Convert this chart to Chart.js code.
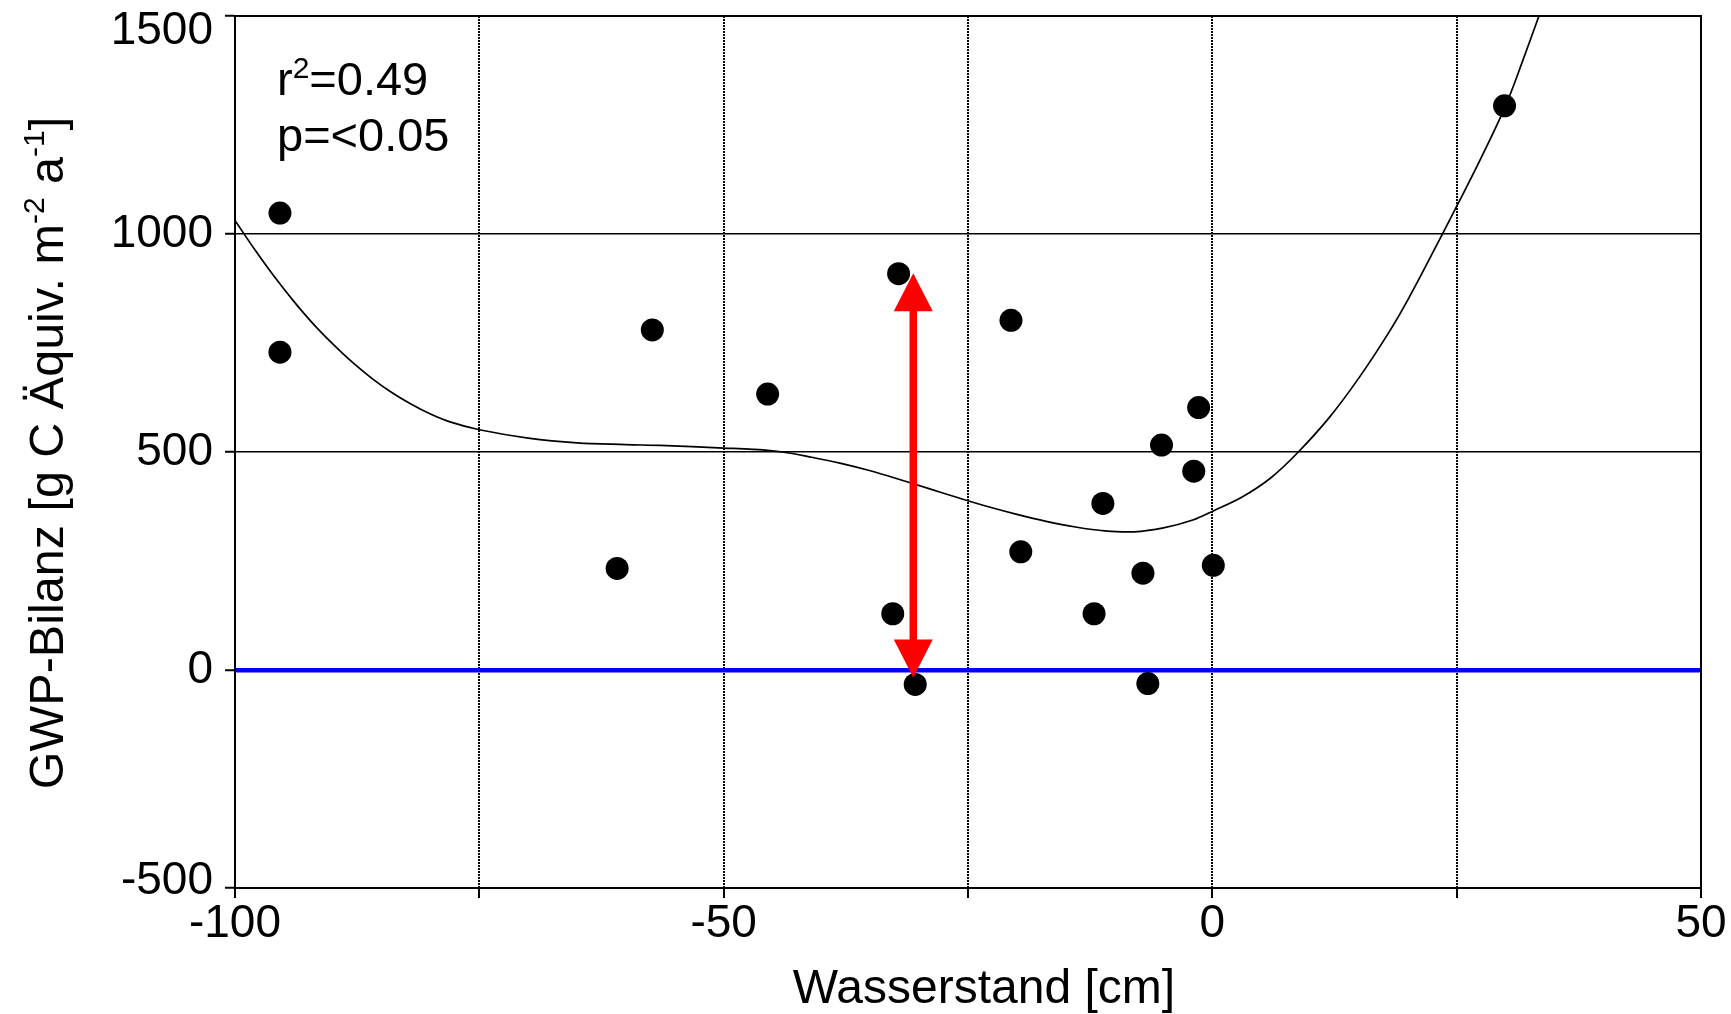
<!DOCTYPE html>
<html><head><meta charset="utf-8">
<script src="https://cdn.jsdelivr.net/npm/chart.js@4"></script>
<style>html,body{margin:0;padding:0;background:#fff;}canvas{display:block;}</style>
</head><body>
<canvas id="c" width="1731" height="1014"></canvas>
<script>
// ---- data ----
const waterLevel = [-95.4, -95.4, -60.9, -57.3, -45.5, -32.7, -32.1, -30.4, -20.6, -19.6, -12.1, -11.2, -7.1, -6.6, -5.2, -1.9, -1.4, 0.1, 29.9];
const gwpBalance = [1048, 729, 233, 780, 633, 129, 909, -33, 802, 271, 129, 382, 222, -31, 516, 456, 602, 240, 1294];
// fitted curve, sampled by eye along the drawn line
const fitX = [-100, -98, -96, -94, -92, -90, -88, -86, -84, -82, -80, -78, -75, -70, -65, -60, -56.5, -50, -47, -44, -41, -38, -35, -32, -29, -26, -23, -20, -17, -14, -11, -8, -5, -2, 0.2, 3, 6, 8.8, 12, 15, 18, 20.1, 23.5, 25.15, 27.4, 30, 31.8, 33.4];
const fitY = [1031, 965, 903, 846, 794, 748, 706, 669, 637, 610, 587, 569, 551, 532, 521, 517, 515, 509, 506, 500, 488, 474, 457, 437, 416, 395, 375, 357, 341, 328, 319, 317, 326, 344, 366, 396, 441, 500, 580, 670, 772, 853, 998, 1070, 1170, 1294, 1400, 1499];
const arrowX = [-30.6];
const arrowY = [-17, 910];
const xTickLabels = [-100, -50, 0, 50];
const yTickValues = [-500, 0, 500, 1000, 1500];
const statLines = ['r', '2', '=0.49', 'p=<0.05'];
const xTitle = 'Wasserstand [cm]';
const yTitleParts = ['GWP-Bilanz [g C Äquiv. m', '-2', ' a', '-1', ']'];

const FONT = "'Liberation Sans', Arial, Helvetica, sans-serif";

function drawParts(ctx, parts, x, y) {
  let cx = x;
  for (const p of parts) {
    ctx.font = p.size + 'px ' + FONT;
    ctx.fillText(p.t, cx, y - (p.rise || 0));
    cx += ctx.measureText(p.t).width;
  }
}
function partsWidth(ctx, parts) {
  let w = 0;
  for (const p of parts) { ctx.font = p.size + 'px ' + FONT; w += ctx.measureText(p.t).width; }
  return w;
}

const decorPlugin = {
  id: 'decor',
  beforeDatasetsDraw(chart) {
    const {ctx, chartArea: a} = chart;
    ctx.save();
    ctx.strokeStyle = '#000';
    ctx.lineWidth = 2;
    ctx.beginPath();
    ctx.moveTo(a.left, a.top); ctx.lineTo(a.right, a.top); ctx.lineTo(a.right, a.bottom);
    ctx.stroke();
    ctx.restore();
  },
  afterDatasetsDraw(chart) {
    const {ctx} = chart;
    const xs = chart.scales.x, ys = chart.scales.y;
    const px = xs.getPixelForValue(arrowX[0]);
    const yBot = ys.getPixelForValue(arrowY[0]);
    const yTop = ys.getPixelForValue(arrowY[1]);
    const headL = 38, headW = 39;
    ctx.save();
    ctx.fillStyle = '#ff0000';
    ctx.fillRect(px - 3.75, yTop + headL - 1, 7.5, (yBot - yTop) - 2 * headL + 2);
    ctx.beginPath();
    ctx.moveTo(px, yTop); ctx.lineTo(px + headW / 2, yTop + headL); ctx.lineTo(px - headW / 2, yTop + headL); ctx.closePath();
    ctx.fill();
    ctx.beginPath();
    ctx.moveTo(px, yBot); ctx.lineTo(px + headW / 2, yBot - headL); ctx.lineTo(px - headW / 2, yBot - headL); ctx.closePath();
    ctx.fill();
    ctx.restore();
  },
  afterDraw(chart) {
    const {ctx, chartArea: a} = chart;
    ctx.save();
    ctx.fillStyle = '#000';
    ctx.textBaseline = 'alphabetic';
    ctx.textAlign = 'left';
    // statistics annotation
    drawParts(ctx, [{t: statLines[0], size: 47}, {t: statLines[1], size: 30, rise: 17}, {t: statLines[2], size: 47}], a.left + 42, a.top + 79);
    drawParts(ctx, [{t: statLines[3], size: 47}], a.left + 42, a.top + 135);
    // x title
    ctx.font = '48px ' + FONT;
    ctx.textAlign = 'center';
    ctx.fillText(xTitle, (a.left + a.right) / 2 + 16, 1003);
    // y title (rotated, with superscripts)
    ctx.textAlign = 'left';
    const parts = [
      {t: yTitleParts[0], size: 48.5}, {t: yTitleParts[1], size: 30, rise: 19},
      {t: yTitleParts[2], size: 48.5}, {t: yTitleParts[3], size: 30, rise: 19},
      {t: yTitleParts[4], size: 48.5}
    ];
    const w = partsWidth(ctx, parts);
    ctx.translate(63, (a.top + a.bottom) / 2 + 1);
    ctx.rotate(-Math.PI / 2);
    drawParts(ctx, parts, -w / 2, 0);
    ctx.restore();
  }
};

new Chart(document.getElementById('c'), {
  type: 'scatter',
  data: {
    datasets: [
      {
        label: 'Messwerte',
        data: waterLevel.map((x, i) => ({x, y: gwpBalance[i]})),
        pointRadius: 11.5, pointHoverRadius: 11.5,
        pointBackgroundColor: '#000', pointBorderWidth: 0, pointBorderColor: '#000'
      },
      {
        type: 'line',
        label: 'Regression',
        data: fitX.map((x, i) => ({x, y: fitY[i]})),
        borderColor: '#000', borderWidth: 1.7,
        pointRadius: 0, fill: false,
        tension: 0.35
      }
    ]
  },
  options: {
    responsive: false,
    animation: false,
    devicePixelRatio: 1,
    layout: {padding: {left: 111, right: 30, top: 16, bottom: 0}},
    plugins: {legend: {display: false}, tooltip: {enabled: false}},
    scales: {
      x: {
        type: 'linear', min: -100, max: 50,
        ticks: {
          stepSize: 25, autoSkip: false, maxRotation: 0, padding: 3,
          color: '#000', font: {family: FONT, size: 46, lineHeight: 1},
          callback: v => xTickLabels.includes(v) ? String(v) : ''
        },
        grid: {
          color: c => (c.tick && (c.tick.value === -100 || c.tick.value === 50)) ? 'rgba(0,0,0,0)' : '#000',
          lineWidth: 2, tickColor: '#000', tickWidth: 2, tickLength: 10
        },
        border: {display: true, color: '#000', width: 2, dash: [2, 1]},
        afterFit: s => { s.height = 126; s.paddingLeft = 0; s.paddingRight = 0; }
      },
      y: {
        type: 'linear', min: -500, max: 1500,
        afterBuildTicks: s => { s.ticks = yTickValues.map(v => ({value: v})); },
        ticks: {
          padding: 12, color: '#000',
          font: c => ({family: FONT, size: 46, lineHeight: (c.tick && c.tick.value === -500) ? 0.3 : 0.65}),
          callback: v => v === 1500 ? ['', String(v)] : (v === -500 ? [String(v), ''] : String(v))
        },
        grid: {
          color: c => {
            const v = c.tick && c.tick.value;
            if (v === 0) return '#0000ff';
            if (v === 500 || v === 1000) return '#000';
            return 'rgba(0,0,0,0)';
          },
          lineWidth: c => (c.tick && c.tick.value === 0) ? 4.5 : 1.5,
          tickColor: '#000', tickWidth: 2, tickLength: 10
        },
        border: {display: true, color: '#000', width: 2},
        afterFit: s => { s.width = 124; s.paddingTop = 0; s.paddingBottom = 0; }
      }
    }
  },
  plugins: [decorPlugin]
});
</script>
</body></html>
